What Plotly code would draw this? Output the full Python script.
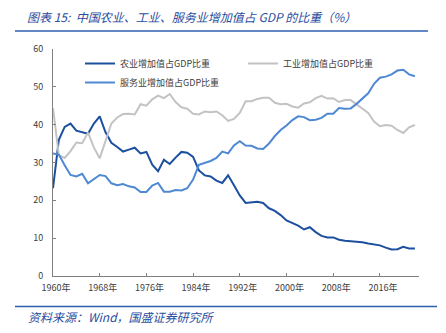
import plotly.graph_objects as go

years = list(range(1960, 2023))

agriculture = [23.2, 36.0, 39.4, 40.3, 38.4, 37.9, 37.6, 40.3, 42.2, 38.0,
               35.2, 34.1, 32.9, 33.4, 33.9, 32.4, 32.8, 29.4, 27.7, 30.7,
               29.6, 31.3, 32.8, 32.6, 31.5, 27.9, 26.6, 26.3, 25.2, 24.6,
               26.6, 24.0, 21.3, 19.3, 19.5, 19.6, 19.3, 17.9, 17.2, 16.1,
               14.7, 14.0, 13.3, 12.3, 12.9, 11.6, 10.6, 10.2, 10.2, 9.6,
               9.3, 9.2, 9.1, 8.9, 8.6, 8.4, 8.1, 7.5, 7.0, 7.1,
               7.7, 7.3, 7.3]

industry = [44.4, 31.9, 31.2, 33.0, 35.3, 35.1, 37.9, 34.0, 31.1, 35.6,
            40.3, 41.9, 42.8, 42.9, 42.7, 45.4, 45.0, 46.7, 47.7, 47.0,
            48.1, 46.0, 44.6, 44.2, 42.9, 42.7, 43.5, 43.3, 43.5, 42.5,
            41.0, 41.5, 43.1, 46.2, 46.2, 46.8, 47.1, 47.1, 45.8, 45.4,
            45.5, 44.8, 44.5, 45.6, 45.9, 47.0, 47.6, 46.9, 47.0, 46.0,
            46.5, 46.5, 45.4, 44.2, 43.1, 40.8, 39.6, 39.9, 39.7, 38.6,
            37.8, 39.3, 39.9]

services = [32.4, 32.1, 29.3, 26.7, 26.3, 27.0, 24.5, 25.7, 26.7, 26.4,
            24.5, 24.0, 24.3, 23.7, 23.4, 22.2, 22.2, 23.9, 24.6, 22.3,
            22.3, 22.7, 22.6, 23.2, 25.5, 29.4, 29.8, 30.4, 31.2, 32.9,
            32.4, 34.5, 35.6, 34.5, 34.4, 33.7, 33.6, 35.0, 37.0, 38.6,
            39.8, 41.2, 42.2, 42.0, 41.2, 41.3, 41.8, 42.9, 42.9, 44.4,
            44.2, 44.3, 45.5, 46.9, 48.3, 50.8, 52.4, 52.7, 53.3, 54.3,
            54.5, 53.3, 52.8]

tick_years = [1960, 1968, 1976, 1984, 1992, 2000, 2008, 2016]
tick_labels = [f"{y}年" for y in tick_years]

names = ["农业增加值占GDP比重", "工业增加值占GDP比重", "服务业增加值占GDP比重"]

FONT = "Noto Sans CJK SC, Liberation Sans, sans-serif"
TXT = "#404040"
BLUE_TXT = "#2a4d9e"

fig = go.Figure()
fig.add_trace(go.Scatter(x=years, y=agriculture, mode="lines", name=names[0],
                         line=dict(color="#1d4f9f", width=2), legend="legend"))
fig.add_trace(go.Scatter(x=years, y=industry, mode="lines", name=names[1],
                         line=dict(color="#c3c3c3", width=2), legend="legend2"))
fig.add_trace(go.Scatter(x=years, y=services, mode="lines", name=names[2],
                         line=dict(color="#4f88d2", width=2), legend="legend"))

W, H = 446, 333
L, R, T, B = 53, 27, 49, 57
pw, ph = W - L - R, H - T - B


def px(x):
    return (x - L) / pw


def py(y):
    return (H - B - y) / ph


fig.update_layout(
    width=W, height=H,
    margin=dict(l=L, r=R, t=T, b=B),
    paper_bgcolor="white", plot_bgcolor="white",
    font=dict(family=FONT, size=9, color=TXT),
    xaxis=dict(range=[1960, 2022.7], tickvals=tick_years, ticktext=tick_labels,
               showgrid=False, zeroline=False, showline=True, linecolor="#808080",
               linewidth=1, ticks="inside", ticklen=3, tickcolor="#808080",
               tickfont=dict(size=9, color=TXT), ticklabelstandoff=3,
               ticklabelshift=3),
    yaxis=dict(range=[0, 60], dtick=10, showgrid=False, zeroline=False,
               showline=True, linecolor="#808080", linewidth=1, ticks="inside",
               ticklen=3, tickcolor="#808080", tickfont=dict(size=9, color=TXT),
               ticklabelstandoff=7),
    legend=dict(x=px(80), y=py(49), xanchor="left", yanchor="top",
                bgcolor="rgba(0,0,0,0)", font=dict(size=9, color=TXT),
                tracegroupgap=0),
    legend2=dict(x=px(243), y=py(49), xanchor="left", yanchor="top",
                 bgcolor="rgba(0,0,0,0)", font=dict(size=9, color=TXT)),
    shapes=[
        dict(type="line", xref="paper", yref="paper", x0=px(15), x1=px(428),
             y0=py(31), y1=py(31), line=dict(color="#2e5fae", width=1.6)),
        dict(type="line", xref="paper", yref="paper", x0=px(15), x1=px(437),
             y0=py(306.5), y1=py(306.5), line=dict(color="#2e5fae", width=1.6)),
    ],
    annotations=[
        dict(text="图表 15:  中国农业、工业、服务业增加值占 GDP 的比重（%）",
             xref="paper", yref="paper", x=px(25), y=py(16.5), xanchor="left",
             yanchor="middle", showarrow=False,
             font=dict(family=FONT, size=12, color=BLUE_TXT, style="italic")),
        dict(text="资料来源：Wind，国盛证券研究所",
             xref="paper", yref="paper", x=px(26), y=py(316), xanchor="left",
             yanchor="middle", showarrow=False,
             font=dict(family=FONT, size=12, color=BLUE_TXT, style="italic")),
    ],
)

fig.write_html("out.html")
